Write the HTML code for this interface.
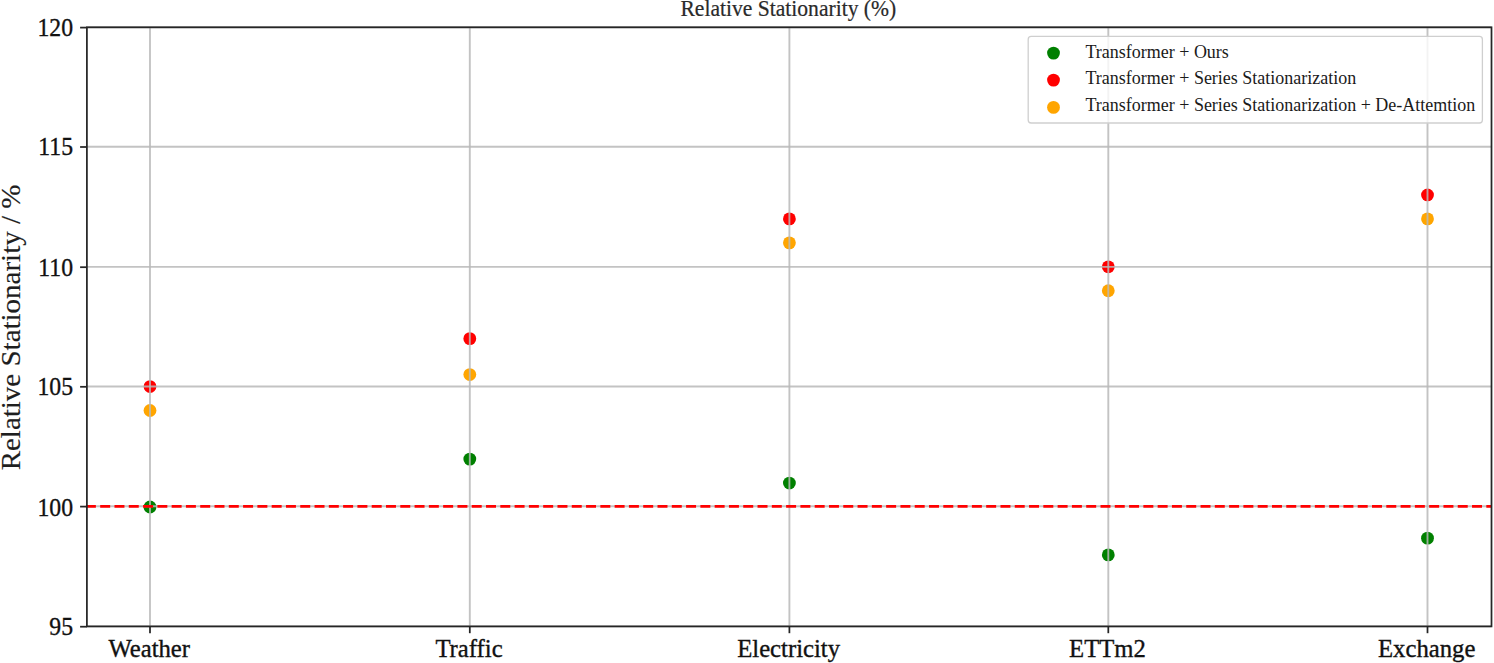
<!DOCTYPE html><html><head><meta charset="utf-8"><style>html,body{margin:0;padding:0;background:#fff;width:1494px;height:663px;overflow:hidden}svg{display:block}text{font-family:"Liberation Serif",serif;fill:#111;stroke:#111;stroke-width:0.35px}</style></head><body>
<svg width="1494" height="663" viewBox="0 0 1494 663">
<rect width="1494" height="663" fill="#fff"/>
<g>
<circle cx="150.00" cy="507.00" r="6.4" fill="#008000"/>
<circle cx="469.80" cy="459.10" r="6.4" fill="#008000"/>
<circle cx="789.40" cy="483.05" r="6.4" fill="#008000"/>
<circle cx="1108.30" cy="554.90" r="6.4" fill="#008000"/>
<circle cx="1427.50" cy="538.13" r="6.4" fill="#008000"/>
<circle cx="150.00" cy="386.55" r="6.4" fill="#ff0000"/>
<circle cx="469.80" cy="338.65" r="6.4" fill="#ff0000"/>
<circle cx="789.40" cy="218.90" r="6.4" fill="#ff0000"/>
<circle cx="1108.30" cy="266.80" r="6.4" fill="#ff0000"/>
<circle cx="1427.50" cy="194.95" r="6.4" fill="#ff0000"/>
<circle cx="150.00" cy="410.50" r="6.4" fill="#ffa500"/>
<circle cx="469.80" cy="374.58" r="6.4" fill="#ffa500"/>
<circle cx="789.40" cy="242.85" r="6.4" fill="#ffa500"/>
<circle cx="1108.30" cy="290.75" r="6.4" fill="#ffa500"/>
<circle cx="1427.50" cy="218.90" r="6.4" fill="#ffa500"/>
<line x1="150.00" y1="27.3" x2="150.00" y2="626.4" stroke="#b8b8b8" stroke-opacity="0.85" stroke-width="1.9"/>
<line x1="469.80" y1="27.3" x2="469.80" y2="626.4" stroke="#b8b8b8" stroke-opacity="0.85" stroke-width="1.9"/>
<line x1="789.40" y1="27.3" x2="789.40" y2="626.4" stroke="#b8b8b8" stroke-opacity="0.85" stroke-width="1.9"/>
<line x1="1108.30" y1="27.3" x2="1108.30" y2="626.4" stroke="#b8b8b8" stroke-opacity="0.85" stroke-width="1.9"/>
<line x1="1427.50" y1="27.3" x2="1427.50" y2="626.4" stroke="#b8b8b8" stroke-opacity="0.85" stroke-width="1.9"/>
<line x1="86.9" y1="27.30" x2="1491.5" y2="27.30" stroke="#b8b8b8" stroke-opacity="0.85" stroke-width="1.9"/>
<line x1="86.9" y1="146.70" x2="1491.5" y2="146.70" stroke="#b8b8b8" stroke-opacity="0.85" stroke-width="1.9"/>
<line x1="86.9" y1="266.90" x2="1491.5" y2="266.90" stroke="#b8b8b8" stroke-opacity="0.85" stroke-width="1.9"/>
<line x1="86.9" y1="386.50" x2="1491.5" y2="386.50" stroke="#b8b8b8" stroke-opacity="0.85" stroke-width="1.9"/>
<line x1="86.9" y1="506.30" x2="1491.5" y2="506.30" stroke="#b8b8b8" stroke-opacity="0.85" stroke-width="1.9"/>
<line x1="86.9" y1="626.40" x2="1491.5" y2="626.40" stroke="#b8b8b8" stroke-opacity="0.85" stroke-width="1.9"/>
<line x1="85.9" y1="506.4" x2="1491.5" y2="506.4" stroke="#ff0000" stroke-width="2.8" stroke-dasharray="9.98 4.31"/>
<rect x="86.9" y="27.3" width="1404.60" height="599.10" fill="none" stroke="#262626" stroke-width="1.75"/>
<line x1="150.00" y1="626.4" x2="150.00" y2="633.1999999999999" stroke="#262626" stroke-width="1.75"/>
<line x1="469.80" y1="626.4" x2="469.80" y2="633.1999999999999" stroke="#262626" stroke-width="1.75"/>
<line x1="789.40" y1="626.4" x2="789.40" y2="633.1999999999999" stroke="#262626" stroke-width="1.75"/>
<line x1="1108.30" y1="626.4" x2="1108.30" y2="633.1999999999999" stroke="#262626" stroke-width="1.75"/>
<line x1="1427.50" y1="626.4" x2="1427.50" y2="633.1999999999999" stroke="#262626" stroke-width="1.75"/>
<line x1="80.10000000000001" y1="27.60" x2="86.9" y2="27.60" stroke="#262626" stroke-width="1.75"/>
<line x1="80.10000000000001" y1="147.00" x2="86.9" y2="147.00" stroke="#262626" stroke-width="1.75"/>
<line x1="80.10000000000001" y1="267.20" x2="86.9" y2="267.20" stroke="#262626" stroke-width="1.75"/>
<line x1="80.10000000000001" y1="386.80" x2="86.9" y2="386.80" stroke="#262626" stroke-width="1.75"/>
<line x1="80.10000000000001" y1="506.60" x2="86.9" y2="506.60" stroke="#262626" stroke-width="1.75"/>
<line x1="80.10000000000001" y1="626.70" x2="86.9" y2="626.70" stroke="#262626" stroke-width="1.75"/>
<text x="0" y="0" font-size="24.7" text-anchor="middle" transform="translate(149.20,656.9) scale(1,1.05)">Weather</text>
<text x="0" y="0" font-size="24.7" text-anchor="middle" transform="translate(469.00,656.9) scale(1,1.05)">Traffic</text>
<text x="0" y="0" font-size="24.7" text-anchor="middle" transform="translate(788.60,656.9) scale(1,1.05)">Electricity</text>
<text x="0" y="0" font-size="24.7" text-anchor="middle" transform="translate(1107.50,656.9) scale(1,1.05)">ETTm2</text>
<text x="0" y="0" font-size="24.7" text-anchor="middle" transform="translate(1426.70,656.9) scale(1,1.05)">Exchange</text>
<text x="0" y="0" font-size="24.7" text-anchor="end" transform="translate(73.0,36.35) scale(0.96,1.05)">120</text>
<text x="0" y="0" font-size="24.7" text-anchor="end" transform="translate(73.0,155.45) scale(0.96,1.05)">115</text>
<text x="0" y="0" font-size="24.7" text-anchor="end" transform="translate(73.0,275.95) scale(0.96,1.05)">110</text>
<text x="0" y="0" font-size="24.7" text-anchor="end" transform="translate(73.0,395.35) scale(0.96,1.05)">105</text>
<text x="0" y="0" font-size="24.7" text-anchor="end" transform="translate(73.0,516.05) scale(0.96,1.05)">100</text>
<text x="0" y="0" font-size="24.7" text-anchor="end" transform="translate(73.0,635.30) scale(0.96,1.05)">95</text>
<text x="0" y="0" font-size="26.6" text-anchor="middle" style="fill:#1e1e1e;stroke:#1e1e1e;stroke-width:0.15px" transform="translate(19.6,327.5) rotate(-90) scale(1.09,1)">Relative Stationarity / %</text>
<text x="0" y="0" font-size="21.6" text-anchor="middle" style="fill:#2a2a2a;stroke:#2a2a2a;stroke-width:0.2px" transform="translate(788.3,15.8) scale(1,1.04)">Relative Stationarity (%)</text>
</g>
<g>
<rect x="1028.2" y="36.4" width="454.2" height="86.6" rx="3" ry="3" fill="#fff" fill-opacity="0.8" stroke="#cfcfcf" stroke-width="1.3"/>
<circle cx="1053.5" cy="53.10" r="6.4" fill="#008000"/>
<text x="0" y="0" font-size="18.0" style="stroke:none;fill:#1a1a1a" transform="translate(1085.5,57.90) scale(1,1.07)">Transformer + Ours</text>
<circle cx="1053.5" cy="80.10" r="6.4" fill="#ff0000"/>
<text x="0" y="0" font-size="18.0" style="stroke:none;fill:#1a1a1a" transform="translate(1085.5,83.50) scale(1,1.07)">Transformer + Series Stationarization</text>
<circle cx="1053.5" cy="107.40" r="6.4" fill="#ffa500"/>
<text x="0" y="0" font-size="18.0" style="stroke:none;fill:#1a1a1a" transform="translate(1085.5,110.70) scale(1,1.07)">Transformer + Series Stationarization + De-Attemtion</text>
</g>
</svg></body></html>
